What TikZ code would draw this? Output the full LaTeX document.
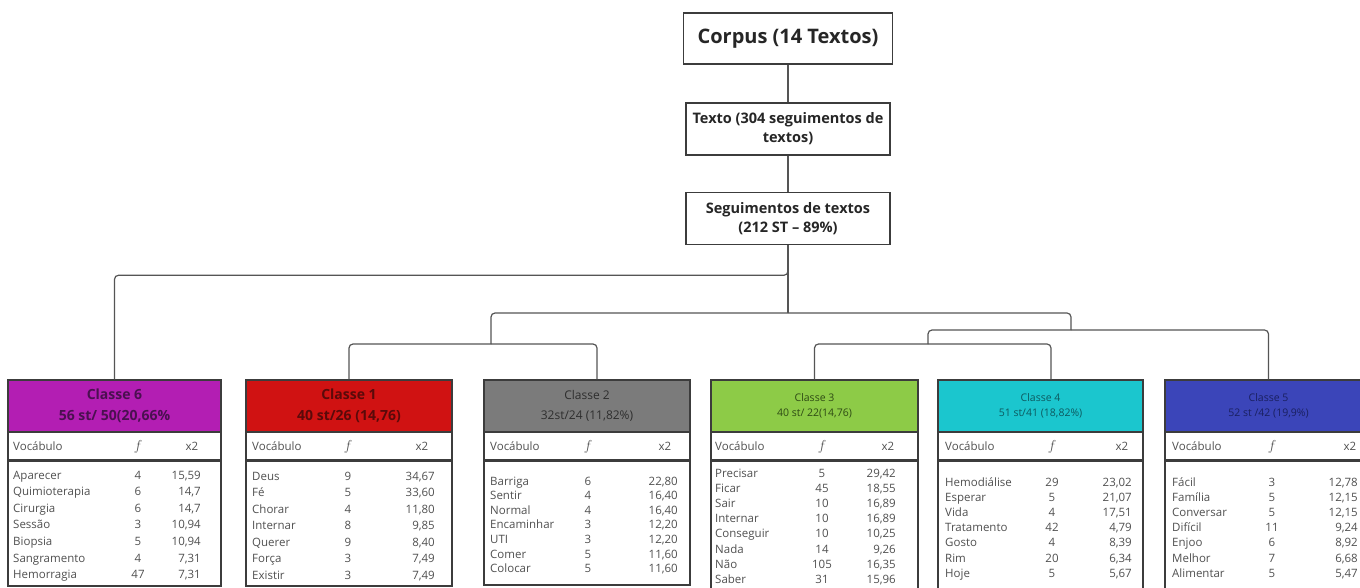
\documentclass[tikz,border=0pt]{standalone}
\usepackage{fontspec}
\setmainfont{Open Sans}
\usetikzlibrary{calc}
\definecolor{cAfill}{HTML}{B31EB3}
\definecolor{cBfill}{HTML}{D01212}
\definecolor{cCfill}{HTML}{7B7B7B}
\definecolor{cDfill}{HTML}{8DCB47}
\definecolor{cEfill}{HTML}{1BC6CE}
\definecolor{cFfill}{HTML}{3B45B9}
\definecolor{cAtxt}{HTML}{4A1050}
\definecolor{cBtxt}{HTML}{5A0A0A}
\definecolor{cCtxt}{HTML}{2E2E2E}
\definecolor{cDtxt}{HTML}{2E4A14}
\definecolor{cEtxt}{HTML}{0D5A60}
\definecolor{cFtxt}{HTML}{1A2060}
\definecolor{edgecol}{HTML}{3C3C3C}
\definecolor{txt}{HTML}{505050}
\definecolor{conncol}{HTML}{555555}
\tikzset{
 topbox/.style={draw=edgecol, line width=1.5pt, fill=white, text=black!85, font=\bfseries\fontsize{14.5}{19}\selectfont, align=center, minimum width=204pt, minimum height=52pt, inner sep=2pt},
 conn/.style={draw=conncol, line width=1.2pt, rounded corners=4pt},
 hdr/.style={draw=edgecol, line width=1.5pt, align=center, inner sep=0pt, minimum height=52pt},
 hbig/.style={font=\bfseries\fontsize{14}{21}\selectfont},
 hmid/.style={font=\fontsize{12}{20}\selectfont},
 hsmall/.style={font=\fontsize{10.5}{15}\selectfont},
 framebox/.style={draw=edgecol, line width=1.5pt},
 cell/.style={text=txt, font=\fontsize{11.5}{13}\selectfont, inner sep=0pt},
}
\newcommand\crows[7]{%
 \foreach \wa/\wb/\wc [count=\i] in {#7}{%
  \node[cell, anchor=base west] (#1w\i) at (#2, {#5+(\i-1)*#6+4}) {\wa};
  \node[cell, anchor=base] (#1f\i) at (#3, {#5+(\i-1)*#6+4}) {\wb};
  \node[cell, anchor=base east] (#1v\i) at (#4, {#5+(\i-1)*#6+4}) {\wc};
 }}
\newcommand\chead[4]{%
  \node[cell, anchor=base west] (#1hv) at (#2, 450) {Vocábulo};
  \node[cell, anchor=base, font=\fontsize{14}{14}\selectfont] (#1hf) at (#3, 450) {$f$};
  \node[cell, anchor=base] (#1hx) at (#4, 450) {x2};
}
\newcommand\cframe[3]{%
 \draw[framebox] (#1,432) rectangle (#2,#3);
 \draw[edgecol, line width=3pt] (#1,460) -- (#2,460);
}
\begin{document}
\begin{tikzpicture}[x=1pt,y=-1pt]
\useasboundingbox (0,0) rectangle (1360,588);
\clip (0,0) rectangle (1360,588);
\fill[white] (0,0) rectangle (1360,588);

% top boxes
\node[topbox, font=\bfseries\fontsize{20}{24}\selectfont, minimum width=209pt, minimum height=51pt] (corpus) at (788,38.5) {Corpus (14 Textos)};
\node[topbox] (texto) at (788,129) {Texto (304 seguimentos de\\textos)};
\node[topbox] (seg) at (788,218.5) {Seguimentos de textos\\(212 ST -- 89\%)};

% class headers
\node[hdr, hbig, fill=cAfill, text=cAtxt, minimum width=213pt] (c6) at (114.5,406) {Classe 6\\56 st/ 50(20,66\%};
\node[hdr, hbig, fill=cBfill, text=cBtxt, minimum width=206pt] (c1) at (349,406) {Classe 1\\40 st/26 (14,76)};
\node[hdr, hmid, fill=cCfill, text=cCtxt, minimum width=206pt] (c2) at (587,406) {Classe 2\\32st/24 (11,82\%)};
\node[hdr, hsmall, fill=cDfill, text=cDtxt, minimum width=207pt] (c3) at (814.5,406) {Classe 3\\40 st/ 22(14,76)};
\node[hdr, hsmall, fill=cEfill, text=cEtxt, minimum width=205pt] (c4) at (1040.5,406) {Classe 4\\51 st/41 (18,82\%)};
\node[hdr, hsmall, fill=cFfill, text=cFtxt, minimum width=207pt] (c5) at (1268.5,406) {Classe 5\\52 st /42 (19,9\%)};

\coordinate (c2top) at ($(c2.north)+(10,0)$);
\coordinate (c4top) at ($(c4.north)+(10.5,0)$);

% tree
\coordinate (m) at (788,313);
\coordinate (L1) at (491,344);
\coordinate (R1) at (1071,330);
\coordinate (R2) at (928,344);
\draw[conn] (corpus.south) -- (texto.north);
\draw[conn] (texto.south) -- (seg.north);
\draw[conn] (seg.south) -- ++(0,30) -| (c6.north);
\draw[conn] (seg.south) -- (m);
\draw[conn] (m) -| (L1);
\draw[conn] (m) -| (R1);
\draw[conn] (L1) -| (c1.north);
\draw[conn] (L1) -| (c2top);
\draw[conn] (R1) -| (c5.north);
\draw[conn] (R1) -| (R2);
\draw[conn] (R2) -| (c3.north);
\draw[conn] (R2) -| (c4top);

% frames
\cframe{8}{221}{586}
\cframe{246}{452}{586}
\cframe{484}{690}{585}
\cframe{711}{918}{596}
\cframe{938}{1143}{596}
\cframe{1165}{1372}{596}

% column headers
\chead{a}{13}{138}{192}
\chead{b}{252}{348}{422}
\chead{c}{490}{588}{665}
\chead{d}{715}{822}{888}
\chead{e}{945}{1052}{1122}
\chead{g}{1172}{1272}{1350}

% rows
\crows{a}{13}{138}{201}{475}{16.6}{Aparecer/4/{15,59}, Quimioterapia/6/{14,7}, Cirurgia/6/{14,7}, Sessão/3/{10,94}, Biopsia/5/{10,94}, Sangramento/4/{7,31}, Hemorragia/47/{7,31}}
\crows{b}{252}{348}{435}{476}{16.5}{Deus/9/{34,67}, Fé/5/{33,60}, Chorar/4/{11,80}, Internar/8/{9,85}, Querer/9/{8,40}, Força/3/{7,49}, Existir/3/{7,49}}
\crows{c}{490}{588}{678}{481}{14.6}{Barriga/6/{22,80}, Sentir/4/{16,40}, Normal/4/{16,40}, Encaminhar/3/{12,20}, UTI/3/{12,20}, Comer/5/{11,60}, Colocar/5/{11,60}}
\crows{d}{715}{822}{896}{473}{15.2}{Precisar/5/{29,42}, Ficar/45/{18,55}, Sair/10/{16,89}, Internar/10/{16,89}, Conseguir/10/{10,25}, Nada/14/{9,26}, Não/105/{16,35}, Saber/31/{15,96}}
\crows{e}{945}{1052}{1132}{482}{15.2}{Hemodiálise/29/{23,02}, Esperar/5/{21,07}, Vida/4/{17,51}, Tratamento/42/{4,79}, Gosto/4/{8,39}, Rim/20/{6,34}, Hoje/5/{5,67}}
\crows{g}{1172}{1272}{1358}{482}{15.2}{Fácil/3/{12,78}, Família/5/{12,15}, Conversar/5/{12,15}, Difícil/11/{9,24}, Enjoo/6/{8,92}, Melhor/7/{6,68}, Alimentar/5/{5,47}}
\end{tikzpicture}
\end{document}
